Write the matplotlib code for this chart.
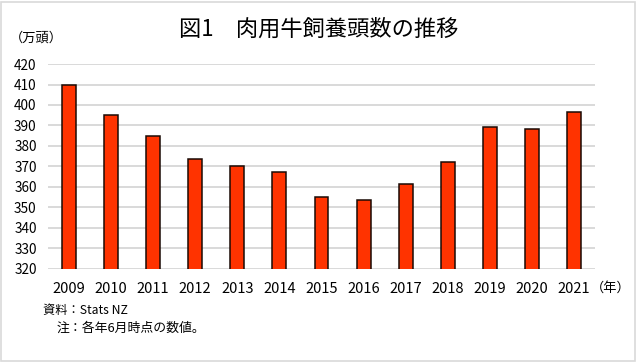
import numpy as np
import matplotlib.pyplot as plt
from matplotlib.patches import Rectangle

plt.rcParams['font.family'] = ['Noto Sans CJK JP', 'DejaVu Sans']

years = ['2009', '2010', '2011', '2012', '2013', '2014', '2015',
         '2016', '2017', '2018', '2019', '2020', '2021']
heads = [410.0, 395.0, 384.6, 373.5, 370.0, 367.0, 355.0,
         353.3, 361.5, 372.0, 389.0, 388.5, 396.8]
yticks = list(range(320, 421, 10))

title = '図1　肉用牛飼養頭数の推移'
unit = '（万頭）'
xunit = '（年）'
source = '資料：Stats NZ'
note = '注：各年6月時点の数値。'

fig = plt.figure(figsize=(6.38, 3.62), dpi=100)
ax = fig.add_axes([0.075, 0.258, 0.858, 0.565])

x = np.arange(len(years))
ax.bar(x, heads, width=0.33, color='#ff3300', edgecolor='#1a0a05',
       linewidth=1.1, zorder=3)

ax.set_ylim(320, 420)
ax.set_xlim(-0.5, len(years) - 0.5)
ax.set_yticks(yticks)
ax.set_xticks(x)
ax.set_xticklabels(years)
ax.tick_params(length=0, colors='#000000')
ax.tick_params(axis='x', pad=10, labelsize=10.5)
ax.tick_params(axis='y', pad=8, labelsize=9.8)
ax.grid(axis='y', color='#d9d9d9', linewidth=1.4, zorder=0)
for s in ax.spines.values():
    s.set_visible(False)

fig.text(0.5, 0.92, title, ha='center', va='center', fontsize=16)
fig.text(0.016, 0.895, unit, ha='left', va='center', fontsize=9.5)
fig.text(0.926, 0.203, xunit, ha='left', va='center', fontsize=9.5)
fig.text(0.068, 0.141, source, ha='left', va='center', fontsize=8.8)
fig.text(0.088, 0.093, note, ha='left', va='center', fontsize=9.3)

fig.patches.append(Rectangle((0.002, 0.004), 0.994, 0.99, transform=fig.transFigure,
                             fill=False, edgecolor='#d9d9d9', linewidth=1.2))

fig.savefig('out.png', dpi=100)
